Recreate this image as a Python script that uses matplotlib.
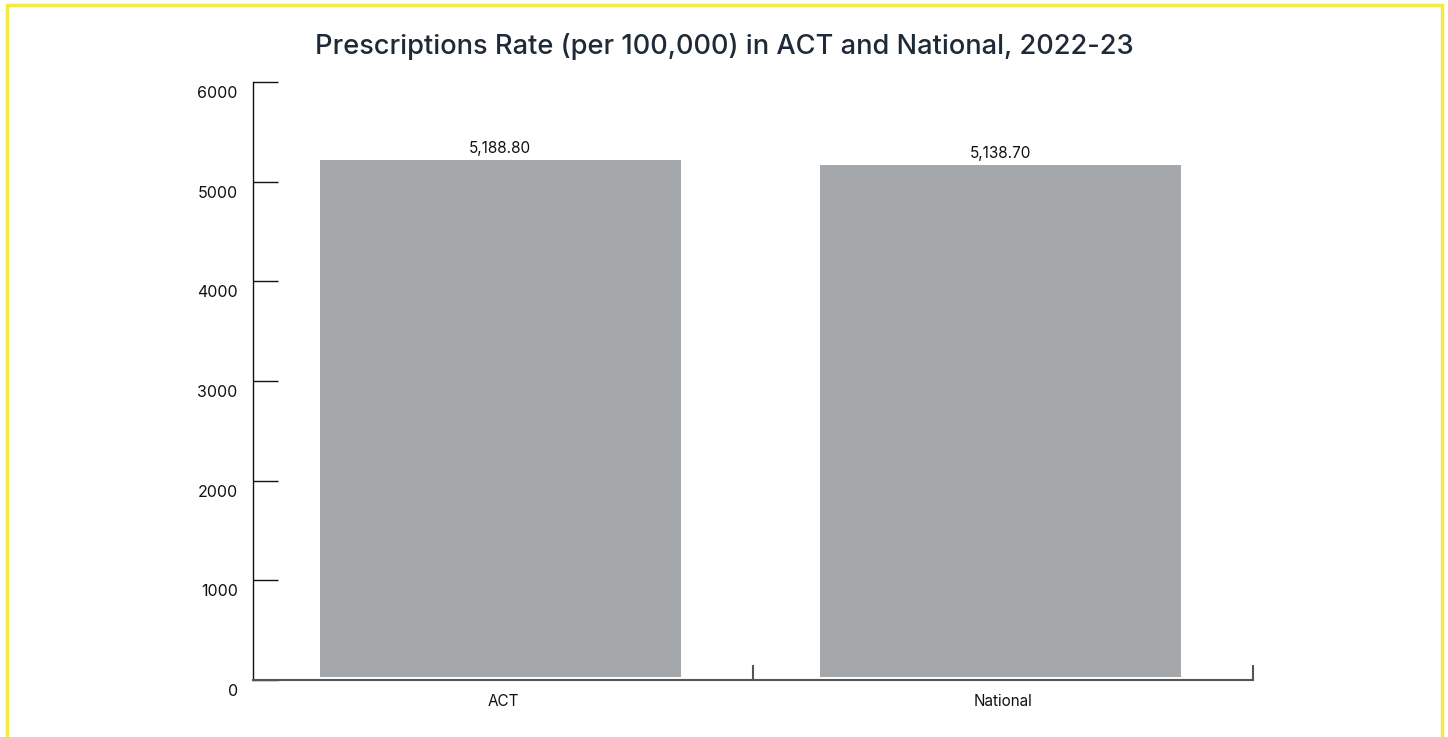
import matplotlib
matplotlib.use("Agg")
import matplotlib.pyplot as plt
import matplotlib.transforms as mtransforms
from matplotlib.patches import Rectangle

# data
categories = ["ACT", "National"]
rates = [5188.80, 5138.70]
value_labels = ["5,188.80", "5,138.70"]
y_ticks = [0, 1000, 2000, 3000, 4000, 5000, 6000]

plt.rcParams['font.family'] = ['Inter', 'DejaVu Sans']

fig = plt.figure(figsize=(14.48, 7.37), dpi=100)
fig.patch.set_facecolor('white')

# yellow frame round the figure (open at bottom)
frame = Rectangle((7 / 1448, -0.05), 1435 / 1448, 1.05 - 5 / 737, transform=fig.transFigure,
                  fill=False, edgecolor='#f4ea45', linewidth=2.5)
fig.patches.append(frame)

ax = fig.add_axes([253 / 1448, 1 - 680 / 737, 1000 / 1448, 598 / 737])

# bars sit a few pixels up/left of the axis, as in the original
shift = mtransforms.ScaledTranslation(-3 / 100, 3 / 100, fig.dpi_scale_trans)

x = range(len(categories))
ax.bar(x, rates, width=0.722, color='#a5a8ab', transform=ax.transData + shift)
for xi, v, lab in zip(x, rates, value_labels):
    ax.annotate(lab, (xi, v), xytext=(-2.2, 5), textcoords='offset points',
                ha='center', va='bottom', fontsize=11, color='#111111')

ax.set_xlim(-0.5, 1.5)
ax.set_ylim(0, 6000)

for s in ['top', 'right']:
    ax.spines[s].set_visible(False)
ax.spines['left'].set_color('#111111')
ax.spines['left'].set_linewidth(1.0)
ax.spines['bottom'].set_color('#555555')
ax.spines['bottom'].set_linewidth(1.5)

# y axis
ax.set_yticks(y_ticks)
ax.set_yticklabels([str(t) for t in y_ticks])
ax.tick_params(axis='y', direction='in', length=18, width=1.0, color='#111111',
               pad=11, labelsize=11.5, labelcolor='#111111')
offset = mtransforms.ScaledTranslation(0, -10 / 100, fig.dpi_scale_trans)
for lab in ax.get_yticklabels():
    lab.set_transform(lab.get_transform() + offset)

# x axis: labels at bar centres, ticks at band edges
ax.set_xticks(list(x))
ax.set_xticklabels(categories)
ax.tick_params(axis='x', which='major', length=0, pad=10, labelsize=11, labelcolor='#111111')
ax.set_xticks([0.5, 1.5], minor=True)
ax.tick_params(axis='x', which='minor', direction='in', length=11, width=1.5, color='#555555')

fig.text(0.5, 1 - 46 / 737, "Prescriptions Rate (per 100,000) in ACT and National, 2022-23",
         ha='center', va='center', fontsize=19.6, fontweight='medium', color='#1e2a38')

fig.savefig("out.png", dpi=100, facecolor='white')
